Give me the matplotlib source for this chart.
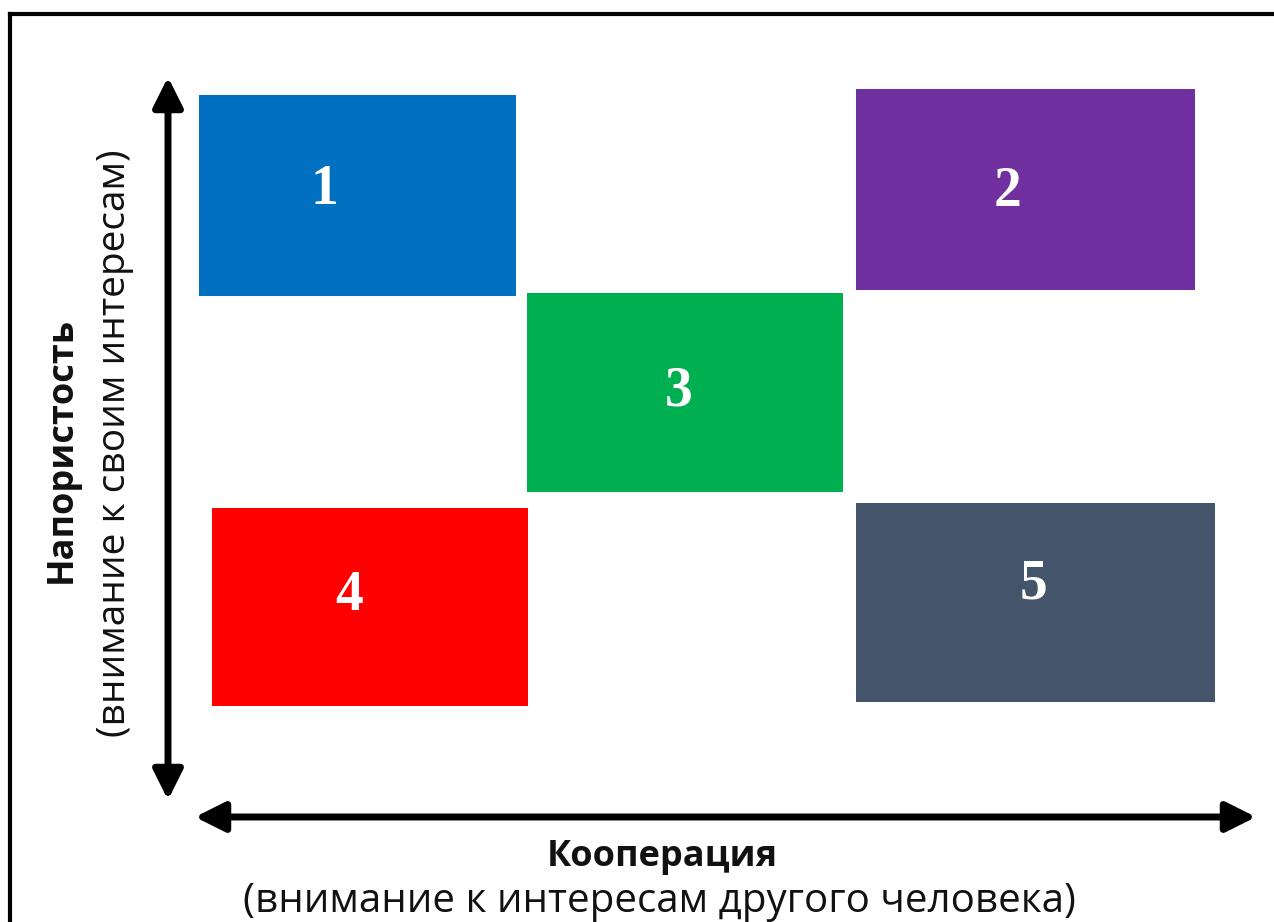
import matplotlib
matplotlib.use("Agg")
import matplotlib.pyplot as plt
from matplotlib.patches import Rectangle

# ---- data (pixel-space layout of the diagram) ----
labels = ["1", "2", "3", "4", "5"]
colors = ["#0070C0", "#7030A0", "#00B050", "#FF0000", "#44546A"]
box_left = [199, 856, 527, 212, 856]
box_right = [516, 1195, 843, 528, 1215]
box_top = [95, 89, 293, 508, 503]
box_bottom = [296, 290, 492, 706, 702]
label_x = [324, 1007, 679, 349, 1034]
label_y = [190, 192, 391, 596, 584]

x_title = "Кооперация"
x_sub = "(внимание к интересам другого человека)"
y_title = "Напористость"
y_sub = "(внимание к своим интересам)"

W, H = 1274, 922
fig = plt.figure(figsize=(W / 100, H / 100), dpi=100)
ax = fig.add_axes([0, 0, 1, 1])
ax.set_xlim(0, W)
ax.set_ylim(H, 0)
ax.axis("off")

# frame (top and left edges)
ax.plot([10, 10], [H + 5, 14], color="black", lw=3, solid_capstyle="projecting")
ax.plot([10, W + 5], [14, 14], color="black", lw=3, solid_capstyle="projecting")

for lab, c, l, r, t, b, tx, ty in zip(labels, colors, box_left, box_right,
                                     box_top, box_bottom, label_x, label_y):
    ax.add_patch(Rectangle((l, t), r - l, b - t, facecolor=c, edgecolor="none"))
    ax.text(tx, ty, lab, color="white", fontsize=40, fontweight="bold",
            family="Liberation Serif", ha="center", va="center")

arrow_style = "<|-|>,head_length=1.0,head_width=0.5"
ax.annotate("", xy=(168, 77), xytext=(168, 800),
            arrowprops=dict(arrowstyle=arrow_style, color="black", lw=5,
                            mutation_scale=18, shrinkA=0, shrinkB=0))
ax.annotate("", xy=(1256, 817), xytext=(195, 817),
            arrowprops=dict(arrowstyle=arrow_style, color="black", lw=5,
                            mutation_scale=18, shrinkA=0, shrinkB=0))

ax.text(662, 857, x_title, fontsize=26, fontweight="bold", family="Open Sans",
        ha="center", va="center", color="#111111")
ax.text(659, 902, x_sub, fontsize=29, family="Open Sans",
        ha="center", va="center", color="#111111")
ax.text(62, 450, y_title, fontsize=26, fontweight="bold", family="Open Sans",
        ha="center", va="center", rotation=90, color="#111111")
ax.text(115, 443, y_sub, fontsize=28, family="Open Sans",
        ha="center", va="center", rotation=90, color="#111111")

fig.savefig("out.png", dpi=100)
